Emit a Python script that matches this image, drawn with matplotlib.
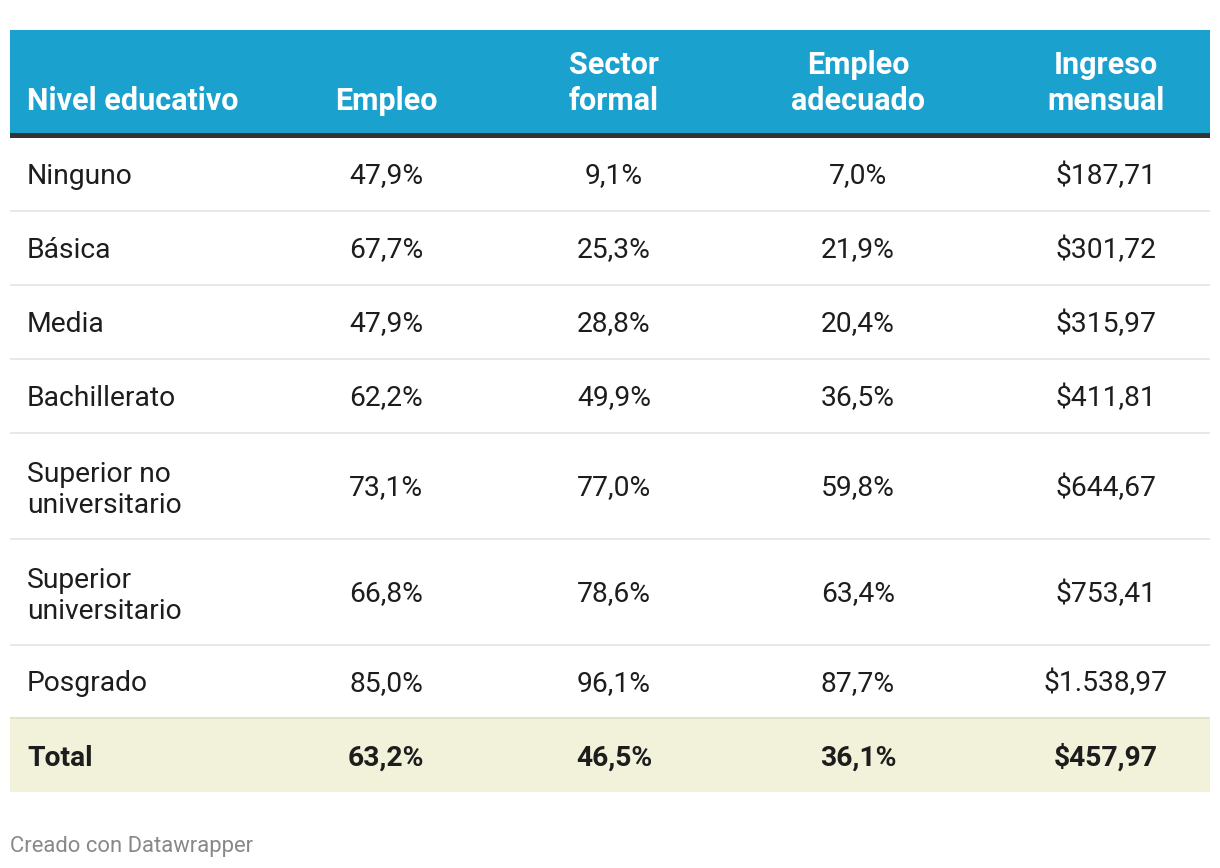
import matplotlib
matplotlib.use("Agg")
import matplotlib.pyplot as plt
from matplotlib.patches import Rectangle

plt.rcParams['font.family'] = ['Roboto', 'DejaVu Sans']

headers = ["Nivel educativo", "Empleo", "Sector\nformal", "Empleo\nadecuado", "Ingreso\nmensual"]
niveles = ["Ninguno", "Básica", "Media", "Bachillerato", "Superior no\nuniversitario",
           "Superior\nuniversitario", "Posgrado"]
empleo = ["47,9%", "67,7%", "47,9%", "62,2%", "73,1%", "66,8%", "85,0%"]
sector_formal = ["9,1%", "25,3%", "28,8%", "49,9%", "77,0%", "78,6%", "96,1%"]
empleo_adecuado = ["7,0%", "21,9%", "20,4%", "36,5%", "59,8%", "63,4%", "87,7%"]
ingreso = ["$187,71", "$301,72", "$315,97", "$411,81", "$644,67", "$753,41", "$1.538,97"]
total = ["Total", "63,2%", "46,5%", "36,1%", "$457,97"]
footer = "Creado con Datawrapper"

W, H = 1220, 868
fig = plt.figure(figsize=(W / 100, H / 100), dpi=100)
ax = fig.add_axes([0, 0, 1, 1])
ax.set_xlim(0, W)
ax.set_ylim(H, 0)
ax.axis('off')

left, right = 10, 1210
col_x = [27, 386, 614, 858, 1106]
blue = "#1aa1cd"
text_c = "#1d1d1d"

# header
ax.add_patch(Rectangle((left, 30), right - left, 103, color=blue, lw=0))
ax.add_patch(Rectangle((left, 133), right - left, 4.5, color="#333333", lw=0))
for i, h in enumerate(headers):
    ax.text(col_x[i], 110, h, ha='left' if i == 0 else 'center', va='baseline',
            fontsize=22, fontweight='bold', color='white', linespacing=1.24)

# rows
seps = [137, 211, 285, 359, 433, 539, 645, 718]
cols = [niveles, empleo, sector_formal, empleo_adecuado, ingreso]
for r in range(len(niveles)):
    top, bot = seps[r], seps[r + 1]
    yc = (top + bot) / 2 - 1
    for c in range(5):
        ax.text(col_x[c], yc, cols[c][r], ha='left' if c == 0 else 'center',
                va='center_baseline', fontsize=20.3, color=text_c, linespacing=1.21)
    if r < len(niveles) - 1:
        ax.add_patch(Rectangle((left, bot - 1), right - left, 2, color="#e8e8e8", lw=0))

# total row
ax.add_patch(Rectangle((left, 718), right - left, 74, color="#f1f2d9", lw=0))
ax.add_patch(Rectangle((left, 717), right - left, 2, color="#e2e3c8", lw=0))
for c in range(5):
    ax.text(col_x[c], 755, total[c], ha='left' if c == 0 else 'center',
            va='center_baseline', fontsize=20.3, fontweight='bold', color=text_c)

ax.text(10, 844, footer, ha='left', va='center_baseline', fontsize=15.8, color="#888888")

fig.savefig("out.png", dpi=100)
